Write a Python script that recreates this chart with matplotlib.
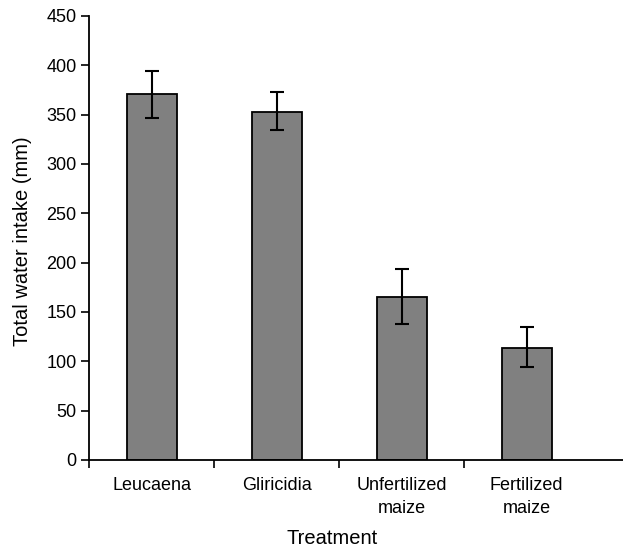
import matplotlib
matplotlib.use("Agg")
import matplotlib.pyplot as plt
import numpy as np

treatments = ["Leucaena", "Gliricidia", "Unfertilized\nmaize", "Fertilized\nmaize"]
intake = [371, 353, 165, 114]
err_up = [23.5, 19.5, 28.5, 20.5]
err_down = [24, 19, 27, 19.5]

plt.rcParams['font.family'] = ['Liberation Sans', 'DejaVu Sans']

fig = plt.figure(figsize=(6.23, 5.49), dpi=100)
ax = fig.add_axes([89 / 623, 89 / 549, 1 - 89 / 623, 444 / 549])

x = np.arange(len(treatments))
ax.bar(x, intake, width=0.4, color="#808080", edgecolor="black", linewidth=1.3)
ax.errorbar(x, intake, yerr=[err_down, err_up], fmt="none", ecolor="black",
            elinewidth=1.5, capsize=5, capthick=1.5)

ax.set_xlim(-0.5, 3.77)
ax.set_ylim(0, 450)
ax.set_yticks(np.arange(0, 451, 50))
ax.tick_params(axis="y", labelsize=13, length=6, width=1.2, direction="out", pad=3)

# tick marks between the bars, labels under the bars
ax.set_xticks([-0.5, 0.5, 1.5, 2.5], labels=[])
ax.set_xticks(x, labels=treatments, minor=True)
ax.tick_params(axis="x", which="major", length=6, width=1.2, direction="out")
ax.tick_params(axis="x", which="minor", length=0, labelsize=13, pad=12)

for lbl in ax.get_xticklabels(minor=True):
    lbl.set_horizontalalignment("center")
    lbl.set_multialignment("center")
    lbl.set_linespacing(1.45)

for side in ["top", "right"]:
    ax.spines[side].set_visible(False)
ax.spines["left"].set_linewidth(1.3)
ax.spines["bottom"].set_linewidth(1.3)

ax.set_xlabel("Treatment", fontsize=14.5)
ax.xaxis.set_label_coords(0.455, -0.155)
ax.set_ylabel("Total water intake (mm)", fontsize=14.5)
ax.yaxis.set_label_coords(-0.106, 0.492)

fig.savefig("out.png", dpi=100)
